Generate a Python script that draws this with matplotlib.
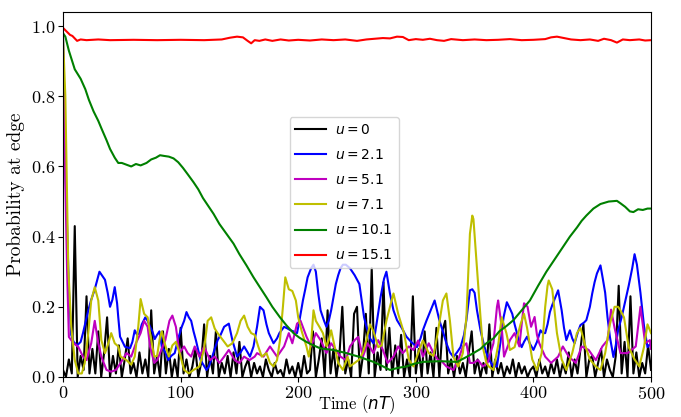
import matplotlib
matplotlib.use('Agg')
import matplotlib.pyplot as plt
import numpy as np

plt.rcParams['font.family'] = 'serif'
plt.rcParams['font.serif'] = ['cmr10', 'DejaVu Serif']
plt.rcParams['axes.formatter.use_mathtext'] = True
plt.rcParams['mathtext.fontset'] = 'dejavusans'
plt.rcParams['font.size'] = 12

labels = ['$u = 0$', '$u = 2.1$', '$u = 5.1$', '$u = 7.1$', '$u = 10.1$', '$u = 15.1$']
colors = ['k', 'b', 'm', 'y', 'g', 'r']

# u = 0, sampled every 2.5 time units
black_t = np.arange(0, 500.1, 2.5)
black_p = [0.02, 0.0, 0.05, 0.01, 0.43, 0.0, 0.06, 0.02, 0.23, 0.01,
           0.08, 0.01, 0.13, 0.0, 0.07, 0.17, 0.0, 0.06, 0.01, 0.09,
           0.0, 0.05, 0.11, 0.01, 0.04, 0.0, 0.07, 0.01, 0.05, 0.0,
           0.19, 0.01, 0.06, 0.0, 0.13, 0.01, 0.08, 0.0, 0.05, 0.0,
           0.14, 0.01, 0.05, 0.0, 0.03, 0.08, 0.0, 0.04, 0.15, 0.0,
           0.06, 0.01, 0.13, 0.0, 0.04, 0.01, 0.06, 0.0, 0.07, 0.01,
           0.10, 0.0, 0.03, 0.05, 0.0, 0.04, 0.01, 0.03, 0.0, 0.05,
           0.02, 0.0, 0.04, 0.01, 0.02, 0.0, 0.05, 0.01, 0.03, 0.0,
           0.04, 0.0, 0.06, 0.01, 0.02, 0.13, 0.0, 0.05, 0.11, 0.0,
           0.19, 0.01, 0.08, 0.0, 0.06, 0.20, 0.01, 0.05, 0.0, 0.18,
           0.20, 0.0, 0.06, 0.18, 0.01, 0.31, 0.0, 0.07, 0.02, 0.27,
           0.02, 0.14, 0.0, 0.09, 0.01, 0.12, 0.0, 0.05, 0.0, 0.23,
           0.01, 0.08, 0.0, 0.13, 0.01, 0.07, 0.0, 0.14, 0.0, 0.13,
           0.16, 0.01, 0.05, 0.0, 0.06, 0.01, 0.04, 0.0, 0.07, 0.13,
           0.01, 0.05, 0.0, 0.04, 0.01, 0.15, 0.0, 0.05, 0.01, 0.04,
           0.0, 0.03, 0.01, 0.05, 0.0, 0.04, 0.01, 0.03, 0.0, 0.02,
           0.03, 0.0, 0.05, 0.01, 0.03, 0.0, 0.04, 0.01, 0.05, 0.0,
           0.04, 0.01, 0.07, 0.0, 0.05, 0.01, 0.08, 0.15, 0.0, 0.05,
           0.06, 0.0, 0.04, 0.08, 0.0, 0.05, 0.02, 0.0, 0.06, 0.26,
           0.01, 0.10, 0.0, 0.23, 0.01, 0.07, 0.0, 0.04, 0.01, 0.09,
           0.02]

blue_t = [0, 2, 5, 7, 9, 12, 15, 17, 21.5, 24, 27, 31, 33, 35.7, 38, 40, 42, 44, 46, 47,
          48.5, 52.7, 57, 59, 61, 63, 65, 67, 70, 72, 74, 76, 78, 80, 82, 84, 87, 89.5, 92, 95,
          98, 101, 103, 105, 107, 109, 111, 113, 115, 117, 122, 124, 126, 129, 131.5, 134, 137, 141, 144, 148,
          151, 154, 157, 159, 162, 165, 167.5, 170.5, 173, 175, 179, 182, 184, 188, 191, 193.5, 196, 199, 201, 204,
          206, 208, 211, 213, 215, 217, 219, 222, 224, 226, 228, 232, 234, 236, 238, 240.5, 244, 248, 252, 254,
          256, 258, 261, 264, 267, 270, 273, 275, 278, 281, 284, 288, 292, 296, 301, 304, 306, 309, 312, 316,
          318, 320, 323, 326, 329, 332, 335, 338, 341, 343, 346, 348, 350, 352, 355, 358, 360, 363, 366, 369,
          372, 374.6, 377.4, 380, 382, 384, 386, 388, 390, 392, 394.6, 397, 400, 403, 406, 408, 410, 412, 414, 416,
          418.6, 421, 424, 426, 428, 431, 433, 435, 438, 440, 443, 445, 448, 450, 452, 454, 457, 459, 461, 463,
          465, 468, 470, 472, 475, 477, 479, 481, 484, 486, 488, 491, 494, 497, 500]
blue_p = [0.98, 0.6, 0.25, 0.12, 0.10, 0.09, 0.10, 0.125, 0.19, 0.22, 0.25, 0.30, 0.29, 0.277, 0.24, 0.20, 0.22, 0.256, 0.21, 0.17,
          0.115, 0.086, 0.082, 0.10, 0.133, 0.12, 0.125, 0.15, 0.17, 0.16, 0.143, 0.13, 0.108, 0.12, 0.13, 0.087, 0.07, 0.048, 0.06, 0.068,
          0.11, 0.143, 0.16, 0.185, 0.17, 0.16, 0.13, 0.105, 0.077, 0.048, 0.02, 0.03, 0.048, 0.08, 0.105, 0.12, 0.143, 0.152, 0.105, 0.058,
          0.07, 0.087, 0.07, 0.058, 0.087, 0.143, 0.20, 0.19, 0.15, 0.125, 0.096, 0.11, 0.125, 0.143, 0.138, 0.133, 0.13, 0.125, 0.16, 0.218,
          0.25, 0.284, 0.31, 0.32, 0.30, 0.24, 0.19, 0.16, 0.143, 0.16, 0.19, 0.265, 0.29, 0.31, 0.32, 0.32, 0.31, 0.29, 0.265, 0.218,
          0.17, 0.143, 0.11, 0.096, 0.16, 0.227, 0.28, 0.30, 0.238, 0.19, 0.162, 0.14, 0.115, 0.10, 0.085, 0.11, 0.133, 0.16, 0.185, 0.218,
          0.19, 0.162, 0.13, 0.096, 0.07, 0.057, 0.07, 0.085, 0.12, 0.162, 0.247, 0.25, 0.24, 0.19, 0.133, 0.09, 0.068, 0.045, 0.03, 0.03,
          0.10, 0.17, 0.213, 0.195, 0.18, 0.15, 0.125, 0.10, 0.085, 0.10, 0.115, 0.095, 0.077, 0.10, 0.133, 0.125, 0.125, 0.15, 0.185, 0.205,
          0.227, 0.247, 0.19, 0.14, 0.105, 0.133, 0.11, 0.096, 0.13, 0.148, 0.155, 0.162, 0.20, 0.238, 0.27, 0.295, 0.318, 0.28, 0.24, 0.17,
          0.115, 0.057, 0.09, 0.133, 0.17, 0.20, 0.23, 0.26, 0.31, 0.35, 0.32, 0.24, 0.146, 0.085, 0.096]

magenta_t = [0, 2, 3.5, 5, 9, 13, 17, 20, 24, 27, 30, 32.6, 37, 41, 45, 49, 54, 58, 62, 66,
             69, 72, 74, 77.6, 80, 82.5, 87, 90.5, 93, 96, 99, 103, 106, 109, 112, 116, 120, 125, 129, 133,
             137, 141, 146, 150, 154, 158.5, 163, 165, 170.5, 176, 182, 188, 192, 195, 199, 202, 207, 211, 215, 219,
             224, 228, 232, 236, 240.5, 244, 248, 251, 255, 259, 264, 268, 272, 276, 281, 285, 289, 294, 298, 302,
             306, 311, 315, 319, 322, 326, 332, 336, 340, 343, 346, 349, 353, 357, 361, 366, 369, 370, 373, 375,
             380, 384, 388, 390, 392, 395, 398, 401, 403, 405, 410, 415, 421, 425, 430, 436, 441, 447, 453, 458.6,
             463, 466, 469, 474, 480, 487, 491, 495, 499, 500]
magenta_p = [0.95, 0.55, 0.3, 0.114, 0.096, 0.086, 0.058, 0.048, 0.096, 0.16, 0.096, 0.058, 0.02, 0.015, 0.02, 0.04, 0.068, 0.058, 0.096, 0.125,
             0.16, 0.143, 0.087, 0.04, 0.048, 0.068, 0.105, 0.16, 0.175, 0.143, 0.068, 0.087, 0.068, 0.058, 0.087, 0.058, 0.087, 0.048, 0.058, 0.04,
             0.058, 0.077, 0.048, 0.04, 0.058, 0.048, 0.058, 0.068, 0.058, 0.087, 0.058, 0.087, 0.125, 0.096, 0.152, 0.16, 0.115, 0.087, 0.125, 0.105,
             0.068, 0.096, 0.077, 0.058, 0.048, 0.087, 0.105, 0.114, 0.058, 0.096, 0.068, 0.105, 0.077, 0.04, 0.058, 0.087, 0.068, 0.087, 0.077, 0.104,
             0.058, 0.096, 0.068, 0.048, 0.045, 0.03, 0.02, 0.048, 0.087, 0.096, 0.04, 0.04, 0.048, 0.03, 0.04, 0.096, 0.2, 0.218, 0.143, 0.058,
             0.105, 0.125, 0.087, 0.15, 0.21, 0.2, 0.143, 0.171, 0.12, 0.096, 0.058, 0.04, 0.058, 0.087, 0.058, 0.04, 0.087, 0.077, 0.048, 0.087,
             0.105, 0.192, 0.14, 0.068, 0.068, 0.087, 0.2, 0.096, 0.105, 0.08]

olive_t = [0, 2, 4.5, 7, 10, 13, 16, 18.5, 21.5, 24, 27, 30, 32.6, 35.7, 38, 41, 44, 47, 49, 54,
           58, 61, 64, 66, 69, 72, 74, 77.6, 80, 82.5, 84, 87, 90, 93, 96, 99, 103, 107, 111, 116,
           120, 123, 126, 129, 131.5, 136, 140, 144, 148, 151, 154, 157, 160, 163, 166, 169, 173, 176, 179, 182,
           184.5, 187, 189, 192, 195, 198, 200, 203, 207, 209, 211, 213, 215, 218, 221, 224, 226, 228, 231, 234,
           238, 242, 244, 248, 252, 255, 258, 261, 264, 268, 271, 275, 278, 281, 285, 290, 294, 298, 302, 306,
           311, 315, 319, 323, 326, 329, 332, 336, 340, 343, 346, 348, 349, 352, 355, 357, 360, 362, 366, 370,
           373, 377, 380, 384, 389, 392, 394.6, 399, 403, 407, 410, 412, 413, 416, 420, 424, 428, 433, 437, 440,
           444, 448, 453, 457, 461, 465, 469, 472, 474, 477, 481, 486, 490, 494, 497, 500]
olive_p = [0.97, 0.8, 0.31, 0.143, 0.048, 0.01, 0.01, 0.04, 0.125, 0.218, 0.256, 0.218, 0.105, 0.068, 0.09, 0.125, 0.096, 0.087, 0.058, 0.048,
           0.035, 0.058, 0.143, 0.222, 0.18, 0.17, 0.125, 0.058, 0.06, 0.114, 0.13, 0.09, 0.058, 0.09, 0.10, 0.07, 0.02, 0.01, 0.02, 0.03,
           0.08, 0.16, 0.17, 0.138, 0.125, 0.105, 0.087, 0.096, 0.125, 0.16, 0.175, 0.143, 0.125, 0.12, 0.087, 0.058, 0.068, 0.04, 0.03, 0.048,
           0.105, 0.2, 0.284, 0.25, 0.245, 0.218, 0.17, 0.13, 0.087, 0.058, 0.10, 0.19, 0.16, 0.143, 0.125, 0.087, 0.105, 0.133, 0.087, 0.04,
           0.02, 0.058, 0.03, 0.04, 0.05, 0.07, 0.105, 0.15, 0.13, 0.085, 0.09, 0.16, 0.2, 0.238, 0.18, 0.125, 0.05, 0.03, 0.068, 0.104,
           0.068, 0.06, 0.133, 0.218, 0.238, 0.16, 0.057, 0.03, 0.068, 0.17, 0.408, 0.46, 0.45, 0.31, 0.17, 0.085, 0.04, 0.03, 0.02, 0.09,
           0.17, 0.125, 0.077, 0.085, 0.15, 0.18, 0.14, 0.05, 0.02, 0.068, 0.20, 0.26, 0.275, 0.25, 0.125, 0.05, 0.02, 0.068, 0.125, 0.14,
           0.09, 0.05, 0.03, 0.02, 0.068, 0.15, 0.2, 0.2, 0.19, 0.17, 0.085, 0.05, 0.03, 0.085, 0.15, 0.125]

green_t = [0, 2, 5, 10, 15, 19, 22, 26, 30, 33, 37, 40, 44, 47, 50, 54, 58, 62, 66, 71,
           75, 79, 82.5, 86, 90, 94, 98, 102, 106, 111, 115, 119, 124, 128, 133, 139, 145, 150, 156, 162,
           167, 173, 178, 184.5, 190, 196, 201, 207, 213, 218.5, 224, 230, 236, 241, 247, 252.5, 258, 264, 271, 278,
           285, 292, 299, 306, 313, 320, 328, 335, 342, 349, 355, 360, 366, 371, 377, 383, 390, 397, 404, 411,
           418, 425, 431, 437, 441, 445, 451, 457, 464, 471, 474, 478, 482, 485, 489, 493, 497, 500]
green_p = [0.98, 0.97, 0.93, 0.877, 0.85, 0.82, 0.79, 0.757, 0.73, 0.706, 0.675, 0.65, 0.625, 0.61, 0.61, 0.605, 0.60, 0.607, 0.603, 0.61,
           0.62, 0.625, 0.632, 0.63, 0.628, 0.623, 0.612, 0.596, 0.578, 0.555, 0.535, 0.51, 0.485, 0.465, 0.436, 0.408, 0.38, 0.35, 0.318, 0.284,
           0.258, 0.227, 0.2, 0.17, 0.147, 0.125, 0.112, 0.10, 0.09, 0.082, 0.079, 0.077, 0.072, 0.068, 0.062, 0.057, 0.05, 0.043, 0.032, 0.02,
           0.026, 0.03, 0.038, 0.043, 0.044, 0.045, 0.044, 0.043, 0.055, 0.068, 0.08, 0.096, 0.11, 0.13, 0.145, 0.162, 0.19, 0.218, 0.26, 0.30,
           0.335, 0.37, 0.40, 0.426, 0.445, 0.46, 0.48, 0.493, 0.50, 0.502, 0.495, 0.485, 0.472, 0.47, 0.478, 0.476, 0.48, 0.48]

red_t = [0, 3, 6, 8, 10, 12, 15, 20, 30, 40, 60, 80, 100, 120, 135, 142, 148, 153, 157, 160,
         163, 167, 172, 178, 185, 192, 200, 210, 220, 230, 240, 250, 258, 265, 272, 278, 284, 289, 294, 300,
         306, 312, 318, 324, 330, 340, 350, 360, 370, 380, 390, 400, 410, 415, 420, 426, 432, 440, 448, 455,
         460, 466, 471, 476, 482, 490, 495, 500]
red_p = [0.995, 0.985, 0.975, 0.972, 0.965, 0.958, 0.962, 0.96, 0.962, 0.96, 0.961, 0.96, 0.961, 0.96, 0.962, 0.967, 0.97, 0.968, 0.958, 0.951,
         0.96, 0.958, 0.962, 0.958, 0.962, 0.959, 0.961, 0.959, 0.962, 0.96, 0.962, 0.958, 0.962, 0.964, 0.966, 0.965, 0.97, 0.969, 0.96, 0.963,
         0.961, 0.964, 0.96, 0.958, 0.963, 0.96, 0.962, 0.96, 0.961, 0.963, 0.96, 0.961, 0.963, 0.968, 0.97, 0.966, 0.962, 0.96, 0.962, 0.958,
         0.964, 0.96, 0.953, 0.962, 0.96, 0.962, 0.959, 0.96]

series = [(black_t, black_p), (blue_t, blue_p), (magenta_t, magenta_p),
          (olive_t, olive_p), (green_t, green_p), (red_t, red_p)]

fig = plt.figure(figsize=(6.81, 4.17), dpi=100)
ax = fig.add_axes([0.0925, 0.096, 0.8635, 0.875])
for (t, p), lab, c in zip(series, labels, colors):
    ax.plot(t, p, color=c, lw=1.5, label=lab)

ax.set_xlim(0, 500)
ax.set_ylim(0, 1.04)
ax.set_xticks([0, 100, 200, 300, 400, 500])
ax.set_yticks([0.0, 0.2, 0.4, 0.6, 0.8, 1.0])
ax.tick_params(labelsize=13, pad=2)
ax.set_xlabel('Time ($nT$)', fontsize=12, labelpad=-6)
ax.set_ylabel('Probability at edge', fontsize=14, labelpad=4)
ax.legend(loc='center', bbox_to_anchor=(0.478, 0.505), fontsize=10,
          handlelength=2.2, handletextpad=0.7, labelspacing=0.8)

fig.savefig('out.png', dpi=100)
